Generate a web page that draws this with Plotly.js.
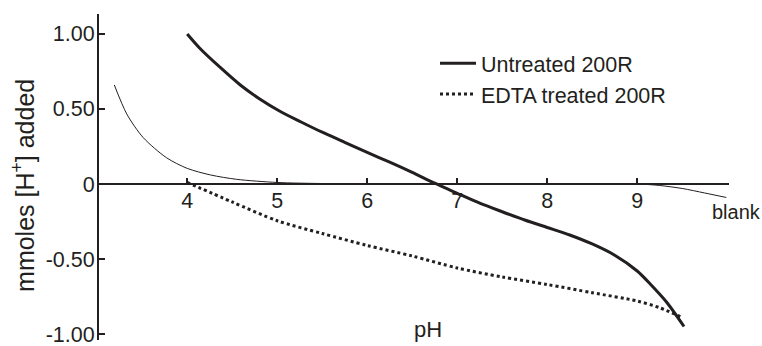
<!DOCTYPE html>
<html>
<head>
<meta charset="utf-8">
<script src="https://cdn.plot.ly/plotly-3.0.1.min.js"></script>
<style>
  html, body { margin: 0; padding: 0; background: #fff; }
  #chart { width: 762px; height: 346px; }
</style>
</head>
<body>
<div id="chart"></div>
<script>
// ---- data ----
const phUntreated = [4.0, 4.14, 4.37, 4.59, 4.81, 5.03, 5.26, 5.5, 5.75, 6.0, 6.25, 6.5, 6.75, 7.0, 7.25, 7.5, 7.75, 8.0, 8.25, 8.5, 8.75, 9.0, 9.15, 9.33, 9.52];
const untreated   = [1.00, 0.905, 0.775, 0.66, 0.565, 0.485, 0.415, 0.345, 0.278, 0.21, 0.145, 0.077, 0.005, -0.062, -0.128, -0.185, -0.24, -0.29, -0.34, -0.40, -0.475, -0.58, -0.67, -0.79, -0.95];

const phEdta = [4.0, 4.5, 5.0, 5.5, 6.0, 6.5, 7.0, 7.5, 8.0, 8.5, 9.0, 9.25, 9.5];
const edta   = [0.01, -0.12, -0.245, -0.33, -0.41, -0.48, -0.56, -0.62, -0.67, -0.725, -0.78, -0.825, -0.89];

const phBlank = [3.19, 3.33, 3.51, 3.77, 4.0, 4.26, 4.55, 5.0, 5.5, 6.0, 7.0, 8.0, 9.0, 9.25, 9.5, 9.75, 9.99];
const blank   = [0.66, 0.465, 0.31, 0.175, 0.104, 0.06, 0.031, 0.01, 0.003, 0.0, 0.0, 0.0, 0.0, -0.01, -0.03, -0.06, -0.09];

const xTickVals = [4, 5, 6, 7, 8, 9];
const xTickText = ['4', '5', '6', '7', '8', '9'];
const yTickVals = [1, 0.5, 0, -0.5, -1];
const yTickText = ['1.00', '0.50', '0', '-0.50', '-1.00'];

const seriesNames = ['Untreated 200R', 'EDTA treated 200R', 'blank'];

const xRange = [3.02, 10.02];
const yRange = [-1.04, 1.133];
const ink = '#231f20';
const FONT = '"Liberation Sans", Arial, Helvetica, sans-serif';

const traces = [
  { x: phUntreated, y: untreated, name: seriesNames[0], type: 'scatter', mode: 'lines',
    line: { color: ink, width: 3, shape: 'spline', smoothing: 0.8 }, cliponaxis: false },
  { x: phEdta, y: edta, name: seriesNames[1], type: 'scatter', mode: 'lines',
    line: { color: ink, width: 3, dash: 'dot', shape: 'spline', smoothing: 0.8 }, cliponaxis: false },
  { x: phBlank, y: blank, name: seriesNames[2], type: 'scatter', mode: 'lines', showlegend: false,
    line: { color: ink, width: 1, shape: 'spline', smoothing: 0.8 }, cliponaxis: false }
];

const layout = {
  width: 762, height: 346,
  margin: { l: 99, r: 33, t: 14, b: 6, pad: 0 },
  paper_bgcolor: '#fff', plot_bgcolor: '#fff',
  font: { family: FONT, size: 21, color: ink },
  showlegend: true,
  legend: {
    x: (435 - 99) / 630, y: 0.912, xanchor: 'left', yanchor: 'top',
    bgcolor: 'rgba(0,0,0,0)', borderwidth: 0,
    font: { family: FONT, size: 21.5, color: ink },
    itemwidth: 36
  },
  xaxis: {
    range: xRange, anchor: 'free',
    position: (0 - yRange[0]) / (yRange[1] - yRange[0]),
    showgrid: false, zeroline: false,
    showline: true, linecolor: ink, linewidth: 2,
    ticks: 'inside', ticklen: 5, tickwidth: 2, tickcolor: ink,
    tickvals: xTickVals, ticktext: xTickText,
    ticklabeloverflow: 'allow', ticklabelstandoff: -3,
    tickfont: { family: FONT, size: 21.5, color: ink }
  },
  yaxis: {
    range: yRange,
    showgrid: false, zeroline: false,
    showline: true, linecolor: ink, linewidth: 2,
    ticks: 'inside', ticklen: 6, tickwidth: 2, tickcolor: ink,
    tickvals: yTickVals, ticktext: yTickText,
    ticklabeloverflow: 'allow', ticklabelstandoff: -2,
    tickfont: { family: FONT, size: 21.5, color: ink }
  },
  annotations: [
    { text: 'mmoles [H<sup>+</sup>] added', textangle: -90, showarrow: false,
      xref: 'paper', x: 0, xanchor: 'center', xshift: -76,
      yref: 'y', y: -0.013, yanchor: 'middle',
      font: { family: FONT, size: 25, color: ink } },
    { text: 'pH', showarrow: false, xref: 'x', x: 6.67, xanchor: 'center',
      yref: 'y', y: -0.973, yanchor: 'middle',
      font: { family: FONT, size: 22, color: ink } },
    { text: 'blank', showarrow: false, xref: 'x', x: 9.81, xanchor: 'left',
      yref: 'y', y: -0.187, yanchor: 'middle',
      font: { family: FONT, size: 20, color: ink } }
  ]
};

Plotly.newPlot('chart', traces, layout, { staticPlot: true, displayModeBar: false });
</script>
</body>
</html>
